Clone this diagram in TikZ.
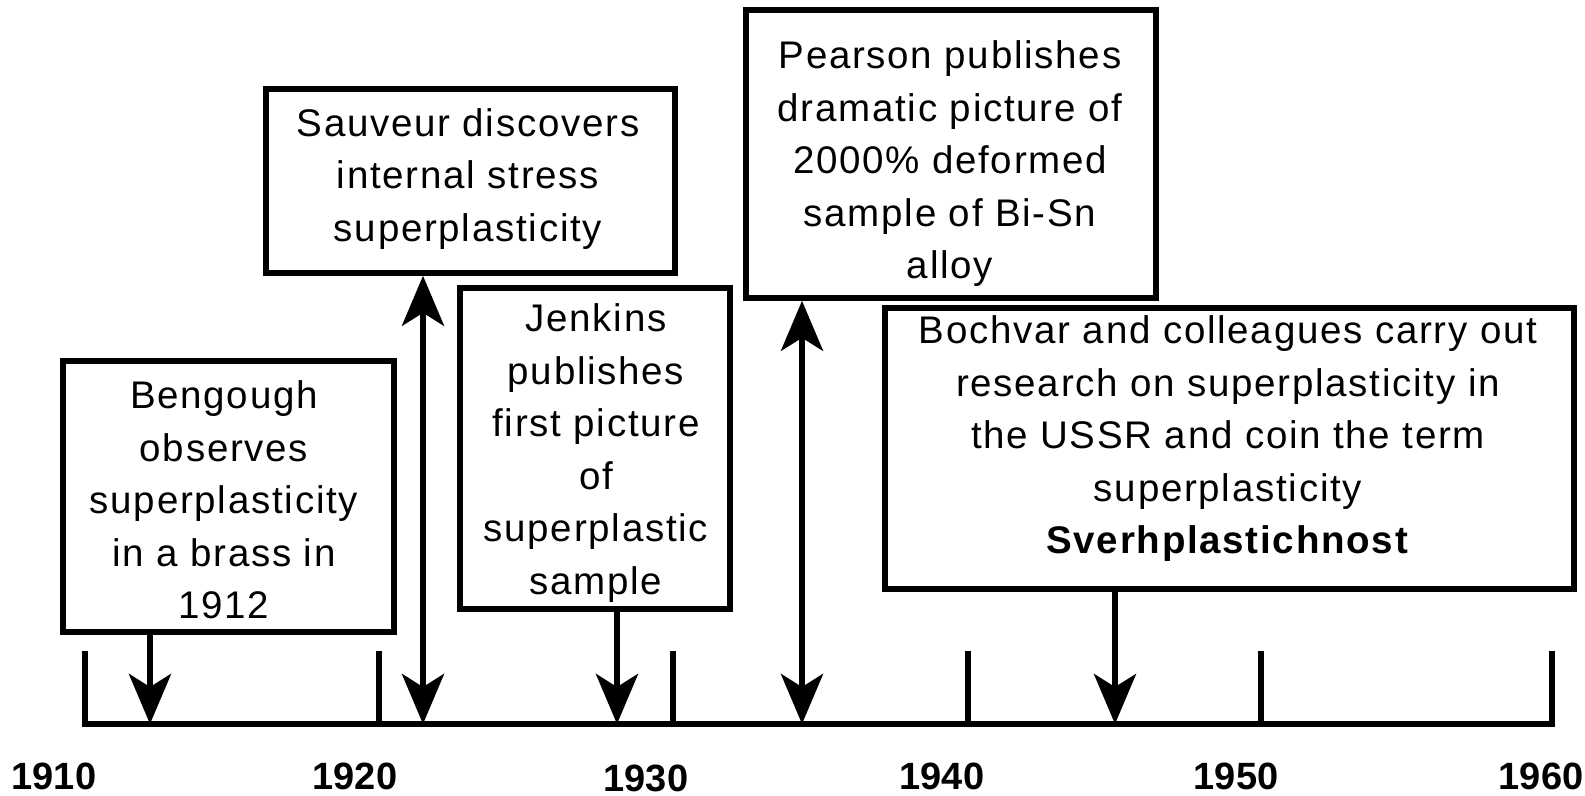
\documentclass[tikz,border=0pt]{standalone}
\usepackage{fontspec}
\setmainfont{Liberation Sans}
\newfontfamily\boxfont[LetterSpace=4.5]{Liberation Sans}
\usetikzlibrary{arrows.meta}
\begin{document}
\begin{tikzpicture}[x=0.5pt,y=-0.5pt,
  evbox/.style={draw, line width=2.8pt, inner sep=0pt},
  evtext/.style={align=center, font=\boxfont\fontsize{19.25}{26.25}\selectfont, inner sep=0pt},
  yearlbl/.style={font=\fontsize{19}{22}\selectfont\bfseries, inner sep=0pt},
  axisline/.style={line width=3.3pt},
  conn/.style={line width=3pt, -{Stealth[length=25pt,width=21pt,inset=6.5pt]}},
  dconn/.style={line width=3pt, {Stealth[length=25pt,width=21pt,inset=6.5pt]}-{Stealth[length=25pt,width=21pt,inset=6.5pt]}},
]
\fill[white] (0,0) rectangle (1585,796);
\useasboundingbox (0,0) rectangle (1585,796);

% axis
\coordinate (t10) at (85,724);
\coordinate (t60) at (1552,724);
\draw[axisline] (85,651) -- (t10) -- (t60) -- (1552,651);
\foreach \x/\n in {379/t20,673/t30,968/t40,1261/t50}{
  \coordinate (\n) at (\x,724);
  \draw[axisline] (\x,651) -- (\n);
}

% year labels
\node[yearlbl] (y1910) at (54,776) {1910};
\node[yearlbl] (y1920) at (355,776) {1920};
\node[yearlbl] (y1930) at (646,778) {1930};
\node[yearlbl] (y1940) at (942,776) {1940};
\node[yearlbl] (y1950) at (1236,776) {1950};
\node[yearlbl] (y1960) at (1541,776) {1960};

% boxes
\node[evbox, minimum width=165.5pt, minimum height=135.5pt] (beng) at (228.5,496.5) {};
\node[evtext] (bengt) at (224,500) {Bengough\\observes\\superplasticity\\in a brass in\\1912};

\node[evbox, minimum width=204.5pt, minimum height=92pt] (sauv) at (470.5,181) {};
\node[evtext] (sauvt) at (468,179) {Sauveur discovers\\internal stress\\superplasticity};

\node[evbox, minimum width=135pt, minimum height=160.5pt] (jenk) at (595,448.5) {};
\node[evtext] (jenkt) at (596,453) {Jenkins\\publishes\\first picture\\of\\superplastic\\sample};

\node[evbox, minimum width=205pt, minimum height=144pt] (pear) at (951,154) {};
\node[evtext] (peart) at (950,164) {Pearson publishes\\dramatic picture of\\2000\% deformed\\sample of Bi-Sn\\alloy};

\node[evbox, minimum width=344.5pt, minimum height=140.5pt] (boch) at (1229.5,448.5) {};
\node[evtext] (bocht) at (1228,439) {Bochvar and colleagues carry out\\research on superplasticity in\\the USSR and coin the term\\superplasticity\\\textbf{Sverhplastichnost}};

% connectors
\coordinate (a1) at (150,724);
\coordinate (a2) at (423,724);
\coordinate (a3) at (617,724);
\coordinate (a4) at (802,724);
\coordinate (a5) at (1115,724);
\draw[conn] (beng.south -| a1) -- (a1);
\draw[dconn] (sauv.south -| a2) -- (a2);
\draw[conn] (jenk.south -| a3) -- (a3);
\draw[dconn] (pear.south -| a4) -- (a4);
\draw[conn] (boch.south -| a5) -- (a5);
\end{tikzpicture}
\end{document}
